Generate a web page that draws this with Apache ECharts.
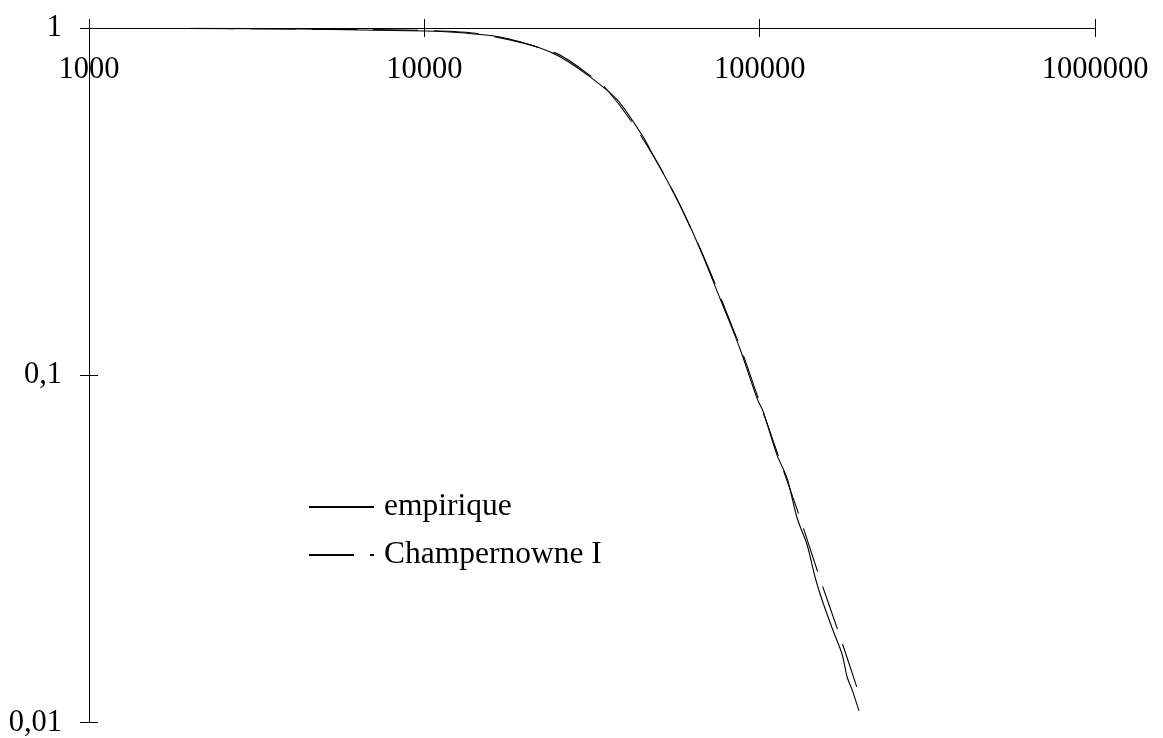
<!DOCTYPE html>
<html>
<head>
<meta charset="utf-8">
<script src="https://cdn.jsdelivr.net/npm/echarts@6/dist/echarts.min.js"></script>
<style>
  html, body { margin: 0; padding: 0; background: #fff; }
  #chart { width: 1163px; height: 738px; }
</style>
</head>
<body>
<div id="chart"></div>
<script>
// Survival function (share of values above x), log-log scale
const xTicks = [1000, 10000, 100000, 1000000];
const yTicks = [0.01, 0.1, 1];

// empirical distribution
const empX = [2000, 4260, 10000, 11930, 16800, 22130, 25390, 31200, 37560, 44880, 47100, 56740,
  66400, 76230, 87410, 98200, 102400, 112700, 120700, 129300, 138500, 146300, 153600, 165500,
  176200, 182400, 188800, 197800];
const empY = [0.998, 0.993, 0.980, 0.974, 0.942, 0.876, 0.826, 0.723, 0.622, 0.487, 0.447, 0.321,
  0.231, 0.166, 0.119, 0.0858, 0.0787, 0.0589, 0.0505, 0.0388, 0.0325, 0.0262, 0.0225, 0.0184,
  0.0157, 0.0135, 0.0124, 0.0108];

// fitted Champernowne I model
const chX = [2000, 4260, 10000, 14660, 24530, 31860, 35070, 41920, 52230, 66400, 87410, 98200,
  119100, 131960, 150420, 172500, 197800];
const chY = [0.997, 0.993, 0.984, 0.961, 0.848, 0.719, 0.664, 0.530, 0.374, 0.232, 0.121, 0.0879,
  0.0515, 0.0388, 0.0264, 0.0180, 0.0121];

const pairs = (xs, ys) => xs.map((x, i) => [x, ys[i]]);
const serif = '"Liberation Serif", "DejaVu Serif", serif';
const fmt = v => String(Number(v.toPrecision(6)));

const chart = echarts.init(document.getElementById('chart'));
const axisFont = { color: '#000', fontFamily: serif, fontSize: 30.5 };

chart.setOption({
  animation: false,
  backgroundColor: '#fff',
  grid: { left: 89, top: 28, width: 1006, height: 697, containLabel: false },
  legend: {
    orient: 'vertical',
    left: 303,
    top: 486,
    itemWidth: 65,
    itemHeight: 14,
    itemGap: 16,
    itemStyle: { opacity: 0 },
    textStyle: { color: '#000', fontFamily: serif, fontSize: 31.5, padding: [0, 0, 0, 5] },
    data: ['empirique', 'Champernowne I']
  },
  xAxis: [
    {
      type: 'log', logBase: 10, position: 'top',
      min: xTicks[0], max: xTicks[xTicks.length - 1],
      axisLine: { lineStyle: { color: '#000', width: 1 } },
      axisTick: { inside: false, length: 9, lineStyle: { color: '#000' } },
      axisLabel: Object.assign({ inside: true, margin: 26, formatter: fmt, showMinLabel: true, showMaxLabel: true }, axisFont),
      splitLine: { show: false }, minorTick: { show: false }
    },
    {
      type: 'log', logBase: 10, position: 'top',
      min: xTicks[0], max: xTicks[xTicks.length - 1],
      axisLine: { show: false },
      axisTick: { inside: true, length: 9, lineStyle: { color: '#000' } },
      axisLabel: { show: false },
      splitLine: { show: false }
    }
  ],
  yAxis: [
    {
      type: 'log', logBase: 10, position: 'left',
      min: yTicks[0], max: yTicks[yTicks.length - 1],
      axisLine: { lineStyle: { color: '#000', width: 1 } },
      axisTick: { inside: false, length: 9, lineStyle: { color: '#000' } },
      axisLabel: Object.assign({ margin: 27, formatter: v => fmt(v).replace('.', ','), showMinLabel: true, showMaxLabel: true }, axisFont),
      splitLine: { show: false }
    },
    {
      type: 'log', logBase: 10, position: 'left',
      min: yTicks[0], max: yTicks[yTicks.length - 1],
      axisLine: { show: false },
      axisTick: { inside: true, length: 9, lineStyle: { color: '#000' } },
      axisLabel: { show: false },
      splitLine: { show: false }
    }
  ],
  series: [
    {
      name: 'empirique', type: 'line', xAxisIndex: 0, yAxisIndex: 0,
      data: pairs(empX, empY), smooth: 0.3, symbol: 'none', showSymbol: false,
      lineStyle: { color: '#000', width: 1.1 }, itemStyle: { color: '#000' }
    },
    {
      name: 'Champernowne I', type: 'line', xAxisIndex: 0, yAxisIndex: 0,
      data: pairs(chX, chY), smooth: 0.3, symbol: 'none', showSymbol: false,
      lineStyle: { color: '#000', width: 1.1, type: [45, 16] }, itemStyle: { color: '#000' }
    }
  ]
});
</script>
</body>
</html>
